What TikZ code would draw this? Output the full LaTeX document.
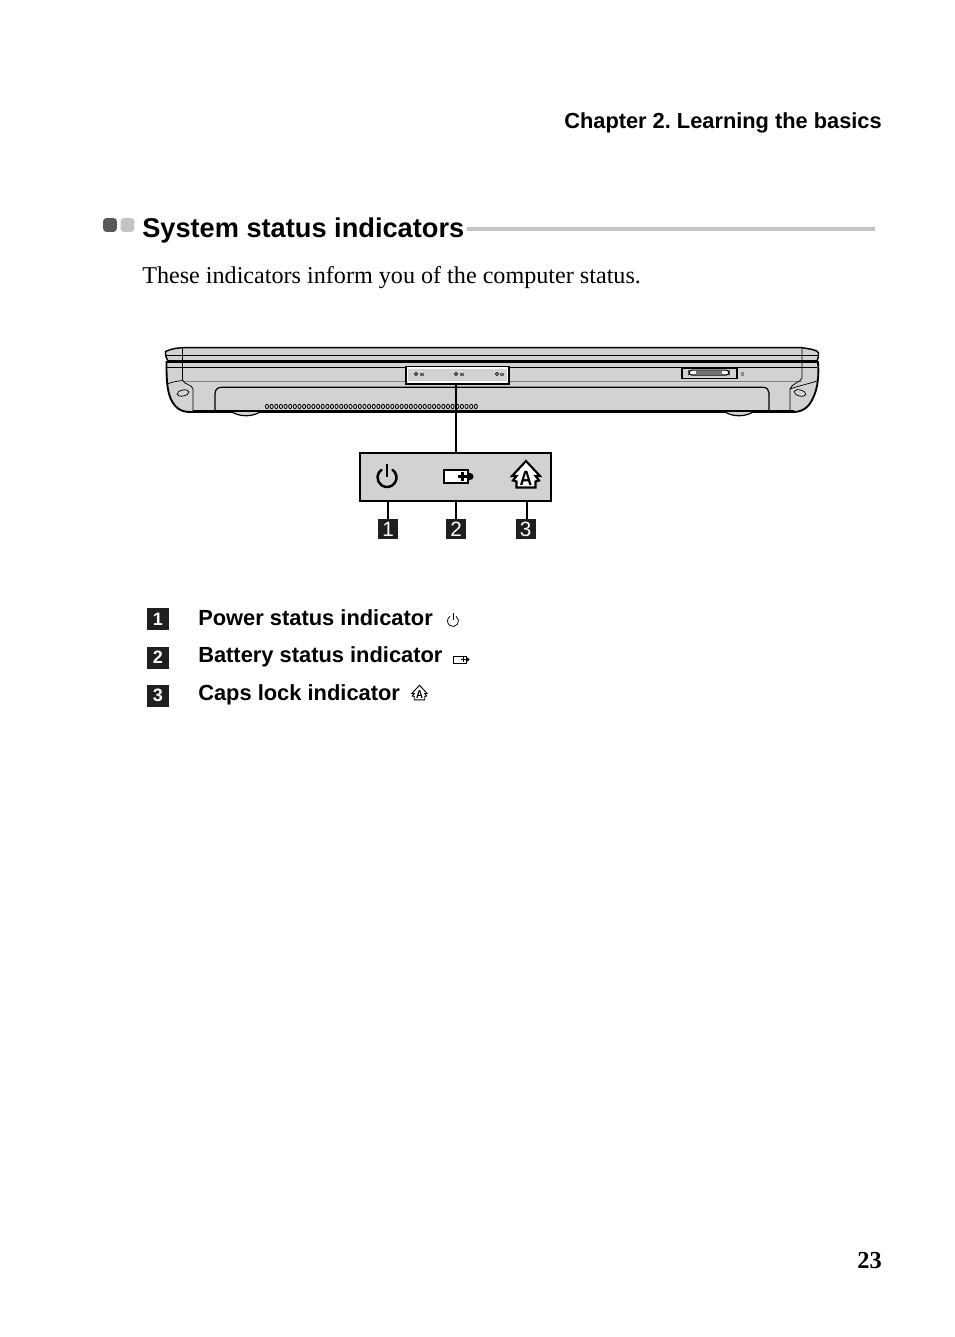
\documentclass[tikz,border=0pt]{standalone}
\usepackage{fontspec}
\setmainfont{Liberation Serif}
\setsansfont{Liberation Sans}
\definecolor{bodygray}{HTML}{D2D2D2}
\definecolor{rulegray}{HTML}{C4C4C4}
\definecolor{bulletdark}{HTML}{595959}
\tikzset{
  headtext/.style = {anchor=base east,inner sep=0pt,font=\frenchspacing\sffamily\bfseries\fontsize{16.35}{20}\selectfont},
  titletext/.style = {anchor=base west,inner sep=0pt,font=\sffamily\bfseries\fontsize{20.4}{24}\selectfont},
  introtext/.style = {anchor=base west,inner sep=0pt,font=\fontsize{18.1}{20}\selectfont},
  itemtext/.style = {anchor=base west,inner sep=0pt,font=\sffamily\bfseries\fontsize{16.4}{20}\selectfont},
  pagetext/.style = {anchor=base east,inner sep=0pt,font=\bfseries\fontsize{18.3}{20}\selectfont},
  bullet/.style = {draw=none,rounded corners=2.2pt,minimum size=10.2pt,inner sep=0pt},
  badge/.style = {fill=black!88,text=white,inner sep=0pt,minimum size=14.8pt,font=\sffamily\fontsize{15.5}{16}\selectfont},
  listbadge/.style = {badge,minimum size=16.5pt,font=\sffamily\bfseries\fontsize{13.5}{15}\selectfont},
  panel/.style = {draw=black,line width=1.4pt,fill=bodygray,minimum width=143.5pt,minimum height=35.5pt,inner sep=0pt},
  leader/.style = {draw=black,line width=1.5pt},
  thinline/.style = {draw=black,line width=0.55pt},
  heavyline/.style = {draw=black,line width=1.4pt},
  powericon/.pic = {
    \draw[line cap=round] (-55:9.5) arc[start angle=-55,end angle=235,radius=9.5];
    \draw (0,-14) -- (0,-1);
  },
  batteryicon/.pic = {
    \draw[fill=white] (-14,-6.5) rectangle (10,6.5);
    \fill (10,-3.5) -- (12,-3.5) arc[start angle=-90,end angle=90,radius=3.5] -- (10,3.5) -- cycle;
    \draw (0,0) -- (9,0) (4.5,-4.5) -- (4.5,4.5);
  },
  capsicon/.pic = {
    \draw[fill=white,line join=miter] (0,-15) -- (14,0) -- (9.5,0) -- (13,4.5) -- (9.5,5.5) -- (9.5,11.5) -- (-9.5,11.5) -- (-9.5,5.5) -- (-13,4.5) -- (-9.5,0) -- (-14,0) -- cycle;
    \node[inner sep=0pt,xscale=0.85,transform shape,font=\sffamily\bfseries\fontsize{15.5}{16}\selectfont] at (0,2.5) {A};
  }
}
\begin{document}
\begin{tikzpicture}[x=0.75pt,y=-0.75pt]
\useasboundingbox (0,0) rectangle (954,1337);
% running head and section title
\node[headtext] (head) at (882,129) {Chapter 2. Learning the basics};
\node[bullet,fill=bulletdark] (dotdark) at (110,225) {};
\node[bullet,fill=rulegray] (dotlight) at (127.5,225) {};
\node[titletext] (title) at (142,238) {System status indicators};
\fill[rulegray] (467,227) rectangle (875,231);
\node[introtext] (intro) at (142,283.5) {These indicators inform you of the computer status.};
% lid of the computer
\draw[heavyline,fill=bodygray,line width=1.1pt] (182,347.7) -- (802,347.7) .. controls (810,349) and (818,350) .. (818.5,353) .. controls (819,356) and (818,358) .. (817,361)
  -- (168,361) .. controls (166,358) and (165,355) .. (165.5,351.5) .. controls (170,349.5) and (175,348) .. (182,347.7) -- cycle;
\draw[thinline] (166,355.7) -- (818,355.7);
% lower part of the computer
\draw[heavyline,fill=bodygray] (166.5,362) -- (818,362) .. controls (819,375) and (818,388) .. (813,398) .. controls (809,407) and (803,412) .. (793,412)
  -- (190,412) .. controls (180,412) and (174,407) .. (170,397) .. controls (166.5,387) and (166.5,375) .. (166.5,362) -- cycle;
\draw[black,line width=2.7pt] (168,361.5) -- (817,361.5);
\draw[thinline] (167,367) -- (817,367);
\draw[draw=black!50,line width=1.4pt] (183,381.5) -- (802,381.5);
\draw[thinline] (182.5,348) -- (182.5,380) .. controls (184,385) and (192,384) .. (193,389) -- (193,411);
\draw[thinline] (802,348) -- (802,378) .. controls (801,382) and (791,384) .. (790,389) -- (790,411);
\draw[thinline] (167,384) .. controls (172,382) and (178,381) .. (182.5,380.5);
\draw[thinline] (817,381) .. controls (808,384) and (798,386) .. (790,389);
\draw[thinline] (183,393) ellipse[x radius=6,y radius=3,rotate=12];
\draw[thinline] (800,393) ellipse[x radius=6,y radius=3,rotate=-15];
% battery cover, feet and vents
\draw[line width=0.9pt] (215,410) -- (215,394) .. controls (215,389) and (218,387.3) .. (222,387.3) -- (763,387.3) .. controls (767,387.3) and (769,390) .. (769,393) -- (769,410);
\draw[line width=0.9pt,fill=bodygray] (230,410.5) .. controls (238,417.5) and (254,417.5) .. (262,410.5);
\draw[line width=0.9pt,fill=bodygray] (723,410.5) .. controls (731,417.5) and (747,417.5) .. (755,410.5);
\draw[black,line width=1.7pt] (193,411) -- (794,411);
\foreach \i in {0,...,45}
  \draw[line width=0.6pt] (267+4.64*\i,406.5) ellipse[x radius=1.6,y radius=2.2];
% card slot
\draw[line width=0.9pt,fill=bodygray] (682,368) rectangle (737,378.5);
\draw[line width=0.8pt,fill=white,rounded corners=2pt] (689,370.2) rectangle (729,375);
\fill[black!55] (696,370.6) rectangle (722,374.6);
\fill[black!45] (740.5,372) rectangle (744,376);
% indicator area and its lights
\node[draw=black,line width=1.5pt,minimum width=77.25pt,minimum height=12.75pt,inner sep=0pt] (ledarea) at (457.5,375) {};
\node[draw=white,line width=0.8pt,minimum width=75pt,minimum height=10.5pt,inner sep=0pt] (ledinner) at (457.5,375) {};
\foreach \xa/\xb in {416/422,456/462,497/502} {
  \draw[line width=0.55pt] (\xa,374) circle[radius=1.7];
  \fill[black!60] (\xb-1.7,372.6) rectangle (\xb+1.7,375.6);
}
% enlarged panel with the three symbols
\node[panel] (panelbox) at (455.5,477) {};
\draw[leader] (ledarea.south -| panelbox.north) -- (panelbox.north);
\pic[line width=1.9pt] at (387,477.5) {powericon};
\pic[line width=1.6pt] at (458,476.5) {batteryicon};
\pic[line width=1.6pt] at (526,476) {capsicon};
\node[badge] (callA) at (388,529) {1};
\node[badge] (callB) at (456,529) {2};
\node[badge] (callC) at (525.7,529) {3};
\draw[leader] (panelbox.south -| callA) -- (callA);
\draw[leader] (panelbox.south -| callB) -- (callB);
\draw[leader] ([xshift=0.75pt]panelbox.south -| callC) -- ([xshift=0.75pt]callC.north);
% list of the indicators
\node[listbadge] (itemA) at (157.8,619) {1};
\node[listbadge] (itemB) at (157.8,657.5) {2};
\node[listbadge] (itemC) at (157.8,695.5) {3};
\node[itemtext] (labelA) at (198,625) {Power status indicator};
\node[itemtext] (labelB) at (198,662) {Battery status indicator};
\node[itemtext] (labelC) at (198,700) {Caps lock indicator};
\pic[scale=0.58,transform shape,line width=0.6pt] at (453,621) {powericon};
\pic[scale=0.55,transform shape,line width=0.6pt] at (461,659.5) {batteryicon};
\pic[scale=0.55,transform shape,line width=0.7pt] at (419.5,693.5) {capsicon};
% page number
\node[pagetext] (pagenum) at (882,1268) {23};
\end{tikzpicture}
\end{document}
